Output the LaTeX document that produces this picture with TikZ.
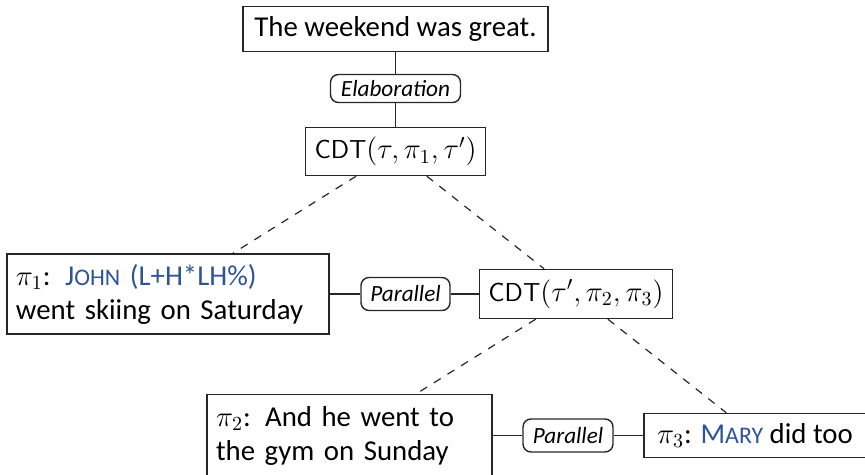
\documentclass[tikz,border=0pt]{standalone}
\usepackage[no-math]{fontspec}
\setmainfont{Carlito}
\usepackage{xcolor}
\definecolor{accent}{RGB}{47,84,150}
\newcommand{\mainsize}{\fontsize{14.4}{17}\selectfont}
\newcommand{\relsize}{\fontsize{11.6}{14}\selectfont}
\newcommand{\fakesc}[2]{#1{\fontsize{11.9}{14}\selectfont #2}}
\newcommand{\cdtname}{{\sffamily\fontsize{13}{17}\selectfont CDT}}
\tikzset{
  box/.style={draw=black!85, line width=0.7pt, inner xsep=4.5pt, inner ysep=0pt, font=\mainsize},
  rel/.style={draw=black!85, line width=0.7pt, rounded corners=4pt, inner sep=0pt, font=\relsize\itshape},
  link/.style={draw=black!85, line width=0.7pt},
  dlink/.style={draw=black!85, line width=0.6pt, dash pattern=on 4pt off 4pt},
}
\begin{document}
\begin{tikzpicture}[x=0.5pt, y=-0.5pt]
  \useasboundingbox (0,0) rectangle (865,475);

  % top of the discourse structure
  \node[box, minimum width=152.5pt, minimum height=22.5pt] (top) at (395.5,29) {The weekend was great.};
  \node[rel, minimum width=65pt, minimum height=14pt] (elab) at (395.5,88.5) {Elaboration};
  \node[box, minimum width=90pt, minimum height=24pt] (cdt1) at (395.5,151.5)
    {\cdtname$(\tau,\pi_1,\tau')$};

  % middle row
  \node[box, text width=152pt, align=left, minimum height=40pt] (pi1) at (168,294)
    {$\pi_1$: \textcolor{accent}{\fakesc{J}{OHN} (L+H*LH\%)}\\went skiing on Saturday};
  \node[rel, minimum width=44.5pt, minimum height=16.5pt] (par1) at (405.5,294) {Parallel};
  \node[box, minimum width=94pt, minimum height=24.5pt] (cdt2) at (576,294)
    {\cdtname$(\tau',\pi_2,\pi_3)$};

  % bottom row
  \node[box, text width=133.5pt, align=left, minimum height=41pt] (pi2) at (349.5,435.5)
    {$\pi_2$: And he went to\\the gym on Sunday};
  \node[rel, minimum width=45pt, minimum height=16.5pt] (par2) at (568,435.5) {Parallel};
  \node[box, minimum width=111pt, minimum height=22pt] (pi3) at (755,435.5)
    {$\pi_3$: \textcolor{accent}{\fakesc{M}{ARY}} did too};

  % relations
  \draw[link] (top) -- (elab) -- (cdt1);
  \draw[link] (pi1) -- (par1) -- (cdt2);
  \draw[link] (pi2) -- (par2) -- (pi3);

  % constituent membership
  \draw[dlink] (cdt1) -- (pi1);
  \draw[dlink] (cdt1) -- (cdt2);
  \draw[dlink] (cdt2) -- (pi2);
  \draw[dlink] (cdt2) -- (pi3);
\end{tikzpicture}
\end{document}
